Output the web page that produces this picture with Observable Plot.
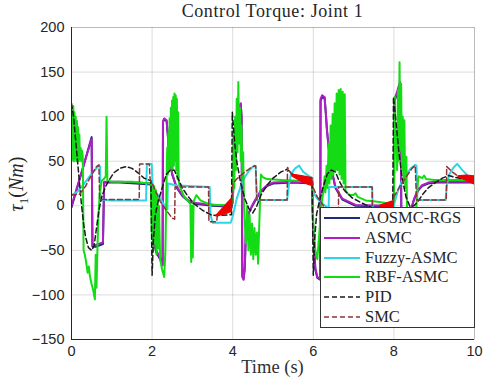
<!DOCTYPE html>
<html><head><meta charset="utf-8">
<script src="https://cdn.jsdelivr.net/npm/d3@7"></script>
<script src="https://cdn.jsdelivr.net/npm/@observablehq/plot@0.6"></script>
<style>
body{margin:0;background:#fff;}
#wrap{position:relative;width:484px;height:389px;overflow:hidden;background:#fff;}
#chart{position:absolute;left:0;top:0;}
#title{position:absolute;left:71px;width:403px;top:1px;text-align:center;font-family:"Liberation Serif",serif;font-size:18px;font-weight:400;letter-spacing:0.6px;color:#262626;}
#xlabel{position:absolute;left:71px;width:403px;top:357px;text-align:center;font-family:"Liberation Serif",serif;font-size:18.5px;font-weight:400;color:#303030;}
#ylabel{position:absolute;left:18px;top:184px;transform:translate(-50%,-50%) rotate(-90deg);white-space:nowrap;font-family:"Liberation Serif",serif;font-size:20px;font-weight:400;color:#262626;}
#ylabel sub{font-size:13px;}
#legend{position:absolute;left:320px;top:207px;width:155px;height:121px;background:#fff;border:1px solid #333;box-sizing:border-box;font-family:"Liberation Serif",serif;font-size:16.5px;font-weight:400;color:#262626;}
.row{position:absolute;left:2px;height:20px;display:flex;align-items:center;}
.row svg{margin-right:4px;}
</style>
</head><body>
<div id="wrap">
  <div id="chart"></div>
  <div id="title"></div>
  <div id="xlabel"></div>
  <div id="ylabel"><i>τ</i><sub>1</sub>(<i>Nm</i>)</div>
  <div id="legend"></div>
</div>
<script>
// ---- texts and axes ----
const titleText = "Control Torque: Joint 1";
const xLabelText = "Time (s)";
const xDomain = [0, 10];
const yDomain = [-150, 200];
const xTicks = [0, 2, 4, 6, 8, 10];
const yTicks = [-150, -100, -50, 0, 50, 100, 150, 200];

// ---- series names / colours ----
const seriesNames = ["AOSMC-RGS", "ASMC", "Fuzzy-ASMC", "RBF-ASMC", "PID", "SMC"];
const seriesColors = ["#1f2a7c", "#b01ec4", "#2ed5e6", "#14dc14", "#1a1a1a", "#8e3434"];
const seriesDashed = [false, false, false, false, true, true];

// ---- series values [time, torque] ----
const aosmcRgs = [
[0,-2],[0.25,37],[0.5,77],[0.52,-46],[0.6,-46],[0.78,-43],[0.81,26],[1.2,26],[1.6,25],[1.98,24],
[2.02,-36],[2.1,-52],[2.2,-60],[2.26,-67],[2.27,94],[2.3,97],[2.36,95],[2.39,79],[2.42,57],[2.5,35],[2.6,21],[2.75,11],[2.9,5],[3.1,2],[3.5,0],[3.97,-1],
[4.0,4],[4.05,58],[4.1,94],[4.15,109],[4.2,114],[4.22,99],[4.24,-79],[4.27,-82],[4.3,-69],[4.33,-24],[4.4,-8],[4.5,1],[4.6,9],[4.7,16],[4.85,22],[5.0,25],[5.5,26],[5.97,25],
[6.0,-31],[6.05,-71],[6.1,-81],[6.17,-83],[6.18,118],[6.22,122],[6.28,121],[6.31,104],[6.34,84],[6.42,47],[6.55,20],[6.72,7],[7.05,0],[7.97,-1],
[8.0,4],[8.02,118],[8.08,126],[8.15,136],[8.17,99],[8.19,-61],[8.3,-66],[8.38,-61],[8.42,-6],[8.5,7],[8.6,17],[8.7,22],[8.85,25],[9.03,26],[10,26]
];
const asmc = [
[0,0],[0.25,38],[0.5,75],[0.52,-44],[0.6,-44],[0.78,-41],[0.81,27],[1.2,27],[1.6,26],[1.98,25],
[2.02,-35],[2.1,-50],[2.2,-58],[2.26,-66],[2.27,95],[2.3,98],[2.36,96],[2.39,80],[2.42,58],[2.5,36],[2.6,22],[2.75,12],[2.9,6],[3.1,3],[3.5,1],[3.97,0],
[4.0,5],[4.05,60],[4.1,95],[4.15,110],[4.2,115],[4.22,100],[4.24,-80],[4.27,-83],[4.3,-70],[4.33,-25],[4.4,-8],[4.5,2],[4.6,10],[4.7,17],[4.85,23],[5.0,26],[5.5,27],[5.97,26],
[6.0,-30],[6.05,-70],[6.1,-80],[6.17,-82],[6.18,120],[6.22,124],[6.28,122],[6.31,105],[6.34,85],[6.42,48],[6.55,21],[6.72,8],[7.05,1],[7.97,0],
[8.0,5],[8.02,120],[8.08,128],[8.15,139],[8.17,100],[8.19,-60],[8.3,-65],[8.38,-60],[8.42,-5],[8.5,8],[8.6,18],[8.7,23],[8.85,26],[9.03,27],[10,27]
];
const fuzzyAsmc = [
[0,12],[0.15,16],[0.3,24],[0.45,33],[0.6,41],[0.68,45],[0.71,44],[0.72,7],[1.0,6],[1.85,6],[1.87,47],[1.99,47],
[2.01,25],[2.1,15],[2.2,8],[2.3,1],[2.38,-4],[2.39,25],[2.6,23],[3.0,22],[3.43,21],[3.45,-10],[3.5,-19],[3.95,-19],
[4.0,-12],[4.1,8],[4.2,22],[4.3,32],[4.4,39],[4.53,45],[4.57,44],[4.6,6.4],[5.35,6.4],[5.4,25],[5.45,36],[5.55,42],[5.65,45],[5.75,38],[5.9,33],[5.98,31],
[6.0,15],[6.1,8],[6.2,3],[6.3,0],[6.38,-4],[6.39,21],[6.8,21],[7.46,21],[7.48,-10],[7.52,-19],[7.95,-19],
[8.0,1],[8.1,17],[8.2,28],[8.3,35],[8.42,42],[8.53,46],[8.56,45],[8.58,6.4],[9.28,6.4],[9.32,25],[9.38,36],[9.48,43],[9.57,47],[9.7,40],[9.85,33],[10,30]
];
const rbfAsmc = [
[0,50],[0.015,110],[0.03,52],[0.045,112],[0.06,50],[0.075,105],[0.09,53],[0.105,100],[0.12,50],[0.135,95],[0.15,52],[0.165,88],[0.18,50],[0.195,80],[0.21,52],[0.225,65],[0.24,50],[0.26,62],[0.28,55],[0.3,-50],[0.33,-55],[0.36,-62],[0.4,-75],[0.43,-68],[0.46,-80],[0.5,-88],[0.54,-95],[0.58,-105],[0.6,-55],[0.62,-92],[0.66,-20],[0.7,15],[0.75,28],[0.8,30],[0.85,33],[0.87,100],[0.89,28],[1.0,27],[1.5,27],[1.97,25],
[1.99,-30],[2.01,20],[2.03,-50],[2.05,22],[2.07,-42],[2.09,18],[2.11,-55],[2.13,10],[2.15,-48],[2.17,0],[2.2,-60],[2.25,-72],[2.3,-80],[2.33,-50],[2.36,30],[2.375,65],[2.39,35],[2.405,82],[2.42,40],[2.435,98],[2.45,45],[2.465,110],[2.48,42],[2.495,118],[2.51,40],[2.525,122],[2.54,45],[2.555,126],[2.57,50],[2.585,124],[2.6,40],[2.615,120],[2.63,30],[2.645,105],[2.66,28],[2.7,20],[2.8,10],[2.9,5],[2.95,2],[2.97,-63],[2.99,0],[3.01,-58],[3.03,5],[3.1,12],[3.2,6],[3.4,2],[3.6,1],[3.97,1],
[4.0,5],[4.02,80],[4.04,20],[4.06,100],[4.08,40],[4.1,120],[4.12,60],[4.14,139],[4.16,70],[4.18,110],[4.2,50],[4.22,90],[4.24,30],[4.26,60],[4.28,0],[4.3,-20],[4.33,-42],[4.36,0],[4.39,-50],[4.42,-10],[4.45,-55],[4.48,-20],[4.51,-60],[4.54,-25],[4.57,-55],[4.6,-30],[4.63,-65],[4.66,-20],[4.7,35],[4.75,32],[4.85,30],[5.2,29],[5.6,28],[5.97,27],
[6.0,-20],[6.05,-50],[6.1,-60],[6.15,-30],[6.2,0],[6.26,20],[6.28,33],[6.3,15],[6.33,45],[6.35,20],[6.38,70],[6.4,25],[6.43,90],[6.45,30],[6.48,103],[6.5,35],[6.53,115],[6.55,40],[6.58,126],[6.6,40],[6.63,130],[6.65,35],[6.68,131],[6.7,30],[6.73,128],[6.75,25],[6.78,125],[6.8,16],[6.9,12],[7.0,12],[7.05,14],[7.1,10],[7.3,6],[7.5,5],[7.8,3],[7.98,1],
[8.0,10],[8.02,122],[8.04,60],[8.06,81],[8.08,40],[8.1,130],[8.12,50],[8.14,161],[8.16,62],[8.18,137],[8.2,40],[8.22,100],[8.24,30],[8.26,96],[8.28,20],[8.31,55],[8.33,-20],[8.36,-45],[8.42,-40],[8.5,-20],[8.56,0],[8.6,30],[8.62,33],[8.7,31],[8.75,34],[8.8,30],[9.0,29],[9.5,29],[10,29]
];
const pid = [
[0,115],[0.05,100],[0.1,75],[0.15,50],[0.2,25],[0.25,0],[0.3,-20],[0.35,-35],[0.42,-47],[0.5,-50],[0.56,-45],[0.62,-25],[0.68,-5],[0.75,10],[0.85,22],[0.95,30],[1.05,37],[1.2,42],[1.35,44],[1.5,42],[1.65,37],[1.8,31],[1.97,28],
[2.0,-78],[2.03,-40],[2.08,-10],[2.15,5],[2.25,20],[2.35,35],[2.45,40],[2.55,40],[2.65,30],[2.75,20],[2.9,10],[3.05,2],[3.25,-5],[3.45,-10],[3.6,-11],[3.97,-10],
[3.99,105],[4.05,70],[4.1,50],[4.2,25],[4.3,8],[4.4,-3],[4.5,-8],[4.6,0],[4.7,12],[4.85,23],[5.0,31],[5.2,38],[5.35,41],[5.5,35],[5.75,30],[5.97,28],
[6.0,-78],[6.03,-40],[6.08,-10],[6.15,5],[6.25,22],[6.35,36],[6.45,40],[6.55,38],[6.63,29],[6.76,18],[6.96,9],[7.21,3],[7.5,-3],[7.8,-8],[7.97,-10],
[7.99,122],[8.05,95],[8.12,62],[8.2,32],[8.3,10],[8.4,-1],[8.5,0],[8.6,5],[8.7,12],[8.85,20],[9.03,26],[9.2,31],[9.36,34],[9.5,32],[9.75,30],[10,29]
];
const smc = [
[0,12],[0.2,13],[0.35,22],[0.5,35],[0.62,44],[0.68,46],[0.7,7],[1.68,7],[1.69,47],[1.93,47],[1.95,30],[2.05,20],[2.2,5],[2.35,-5],[2.5,-14],[2.56,-15],[2.57,21],[3.4,21],[3.41,-18],[3.6,-18],[3.62,-11],[3.98,-2],
[4.0,25],[4.1,30],[4.3,38],[4.5,44],[4.57,45],[4.6,6.4],[5.35,6.4],[5.36,43],[5.45,36],[5.7,31],[5.98,27],
[6.0,20],[6.1,10],[6.25,0],[6.4,-8],[6.55,-14],[6.62,-15],[6.63,21],[7.46,21],[7.47,-18],[7.62,-18],[7.65,-1],[7.98,1],
[8.0,10],[8.15,22],[8.3,32],[8.45,42],[8.53,45],[8.56,6.4],[9.3,6.4],[9.31,44],[9.45,38],[9.6,33],[10,29]
];
// SMC chattering bands [time, low, high]
const chatter1 = [[3.6,-12,-11],[3.8,-10,-1],[3.98,-7,8]];
const chatter2 = [[5.48,33,35],[5.75,26,33],[5.98,22,31]];
const chatter3 = [[7.66,-1,0],[7.85,-2,3],[7.98,-2,5]];
const chatter4 = [[9.6,32,33],[9.8,28,34],[10,24,33]];

// ---- build ----
const seriesData = [aosmcRgs, asmc, fuzzyAsmc, rbfAsmc, pid, smc];
const toRows = a => a.map(([t, v]) => ({t, v}));
const toBand = a => a.map(([t, lo, hi]) => ({t, lo, hi}));

const lineMarks = seriesData.map((d, i) => Plot.line(toRows(d), {
  x: "t", y: "v", stroke: seriesColors[i],
  strokeWidth: seriesDashed[i] ? 1.5 : 2,
  strokeDasharray: seriesDashed[i] ? "5,3" : null,
  strokeLinejoin: "round", clip: true
}));
const bandMarks = [chatter1, chatter2, chatter3, chatter4].map(b =>
  Plot.areaY(toBand(b), {x: "t", y1: "lo", y2: "hi", fill: "#ee0000", stroke: "#ee0000", strokeWidth: 1.2, clip: true}));

const chart = Plot.plot({
  width: 484, height: 389,
  marginLeft: 71, marginRight: 10, marginTop: 27, marginBottom: 50,
  x: {domain: xDomain},
  y: {domain: yDomain},
  style: {fontFamily: "'Liberation Sans', Arial, sans-serif", fontSize: "14.5px", color: "#262626", background: "#fff"},
  marks: [
    Plot.gridX(xTicks, {stroke: "#000", strokeOpacity: 0.14}),
    Plot.gridY(yTicks, {stroke: "#000", strokeOpacity: 0.14}),
    Plot.frame({stroke: "#000", strokeOpacity: 0.15}),
    ...lineMarks,
    ...bandMarks,
    Plot.ruleX([xDomain[0]], {stroke: "#262626"}),
    Plot.ruleY([yDomain[0]], {stroke: "#262626"}),
    Plot.axisX(xTicks, {tickSize: 0, tickPadding: 6, label: null, fontSize: 14.5}),
    Plot.axisY(yTicks, {tickSize: 0, tickPadding: 7, label: null, fontSize: 14.5})
  ]
});
document.getElementById("chart").appendChild(chart);
document.getElementById("title").textContent = titleText;
document.getElementById("xlabel").textContent = xLabelText;

// legend
const leg = document.getElementById("legend");
const rowTops = [0, 19.8, 39.6, 59.4, 79.2, 99];
seriesNames.forEach((name, i) => {
  const row = document.createElement("div");
  row.className = "row";
  row.style.top = rowTops[i] + "px";
  row.innerHTML = `<svg width="38" height="20"><line x1="1" x2="37" y1="10" y2="10" stroke="${seriesColors[i]}" stroke-width="${seriesDashed[i] ? 1.5 : 2.2}" ${seriesDashed[i] ? 'stroke-dasharray="5,3"' : ''}/></svg><span>${name}</span>`;
  leg.appendChild(row);
});
</script>
</body></html>
